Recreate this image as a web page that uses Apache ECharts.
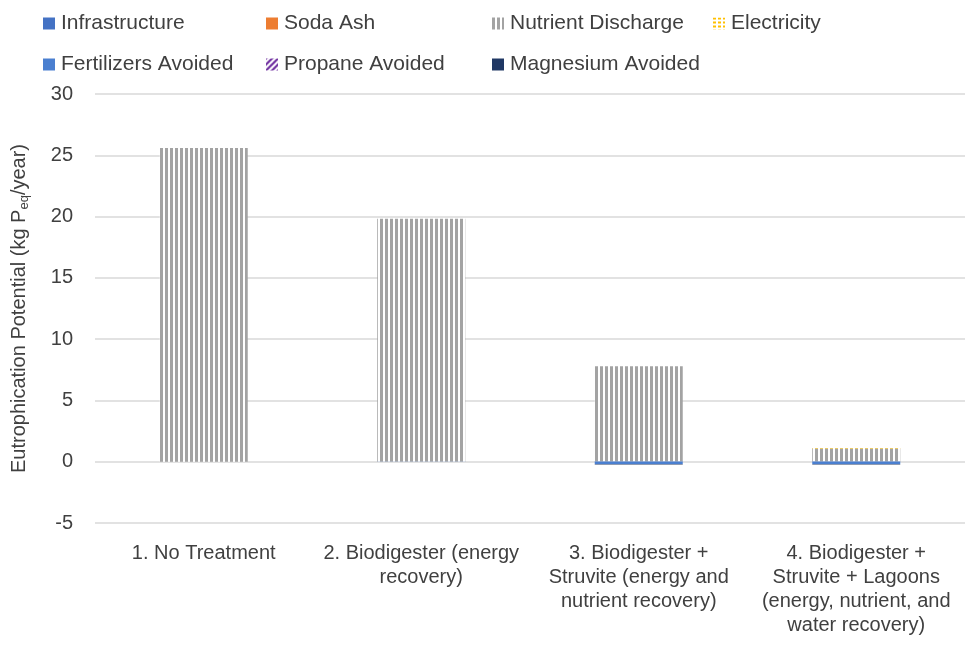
<!DOCTYPE html>
<html><head><meta charset="utf-8">
<script src="https://cdn.jsdelivr.net/npm/echarts@6/dist/echarts.min.js"></script>
<style>html,body{margin:0;padding:0;background:#fff}#c{width:967px;height:651px}</style>
</head><body><div id="c"></div>
<script>
const categories = ['1. No Treatment', '2. Biodigester (energy\nrecovery)', '3. Biodigester +\nStruvite (energy and\nnutrient recovery)', '4. Biodigester +\nStruvite + Lagoons\n(energy, nutrient, and\nwater recovery)'];
const infrastructure = [0, 0.02, 0.03, 0.03];
const sodaAsh = [0, 0, 0, 0];
const nutrientDischarge = [25.6, 19.8, 7.75, 1.05];
const electricity = [0, 0, 0, 0.12];
const fertilizersAvoided = [0, 0, -0.18, -0.18];
const propaneAvoided = [0, 0, 0, 0];
const magnesiumAvoided = [0, 0, -0.05, -0.05];
const yTicks = { min: -5, max: 30, interval: 5 };

function pattern(draw, w, h) {
  const c = document.createElement('canvas'); c.width = w; c.height = h;
  const g = c.getContext('2d'); g.fillStyle = '#fff'; g.fillRect(0, 0, w, h); draw(g);
  return { image: c, repeat: 'repeat' };
}
const grayStripes = pattern(g => { g.fillStyle = '#a3a3a3'; g.fillRect(0, 0, 3, 5); }, 5, 5);
const yellowDots = pattern(g => { g.fillStyle = '#ffc000'; g.fillRect(0, 0, 3, 2); }, 5, 4);
const purpleDiag = pattern(g => { g.strokeStyle = '#7030a0'; g.lineWidth = 2.2; g.beginPath(); g.moveTo(0, 6); g.lineTo(6, 0); g.moveTo(-3, 3); g.lineTo(3, -3); g.moveTo(3, 9); g.lineTo(9, 3); g.stroke(); }, 6, 6);

const font = 'Liberation Sans';
const series = [
  { name: 'Infrastructure', data: infrastructure, color: '#4472c4' },
  { name: 'Soda Ash', data: sodaAsh, color: '#ed7d31' },
  { name: 'Nutrient Discharge', data: nutrientDischarge, color: grayStripes },
  { name: 'Electricity', data: electricity, color: yellowDots },
  { name: 'Fertilizers Avoided', data: fertilizersAvoided, color: '#4a7fd0' },
  { name: 'Propane Avoided', data: propaneAvoided, color: purpleDiag },
  { name: 'Magnesium Avoided', data: magnesiumAvoided, color: '#203864' }
].map(s => ({ name: s.name, type: 'bar', stack: 'a', barWidth: 88, data: s.data, itemStyle: { color: s.color }, emphasis: { disabled: true } }));

function leg(left, names) {
  return { left: left, top: 8, orient: 'vertical', itemGap: 20, itemWidth: 12, itemHeight: 12, icon: 'rect', data: names,
    textStyle: { fontFamily: font, fontSize: 21, color: '#404040', padding: [0, 0, 0, 1] } };
}

const chart = echarts.init(document.getElementById('c'));
chart.setOption({
  animation: false,
  textStyle: { fontFamily: font },
  legend: [
    leg(38, ['Infrastructure', 'Fertilizers Avoided']),
    leg(261, ['Soda Ash', 'Propane Avoided']),
    leg(487, ['Nutrient Discharge', 'Magnesium Avoided']),
    leg(708, ['Electricity'])
  ],
  grid: { left: 95, right: 2, top: 94, bottom: 128, containLabel: false, outerBoundsMode: 'none' },
  xAxis: { type: 'category', data: categories,
    axisLine: { show: false, onZero: false }, axisTick: { show: false },
    axisLabel: { fontFamily: font, fontSize: 20, color: '#404040', margin: 18, lineHeight: 24, interval: 0 } },
  yAxis: { type: 'value', min: yTicks.min, max: yTicks.max, interval: yTicks.interval,
    axisLabel: { fontFamily: font, fontSize: 20, color: '#404040', margin: 22 },
    splitLine: { lineStyle: { color: '#d9d9d9', width: 1.5 } },
    name: '{a|Eutrophication Potential (kg P}{s|eq}{a|/year)}', nameLocation: 'middle', nameGap: 64, nameRotate: 90,
    nameTextStyle: { rich: { a: { fontFamily: font, fontSize: 20, color: '#404040' }, s: { fontFamily: font, fontSize: 13, color: '#404040', padding: [10, 0, 0, 0] } } } },
  series: series
});
</script></body></html>
